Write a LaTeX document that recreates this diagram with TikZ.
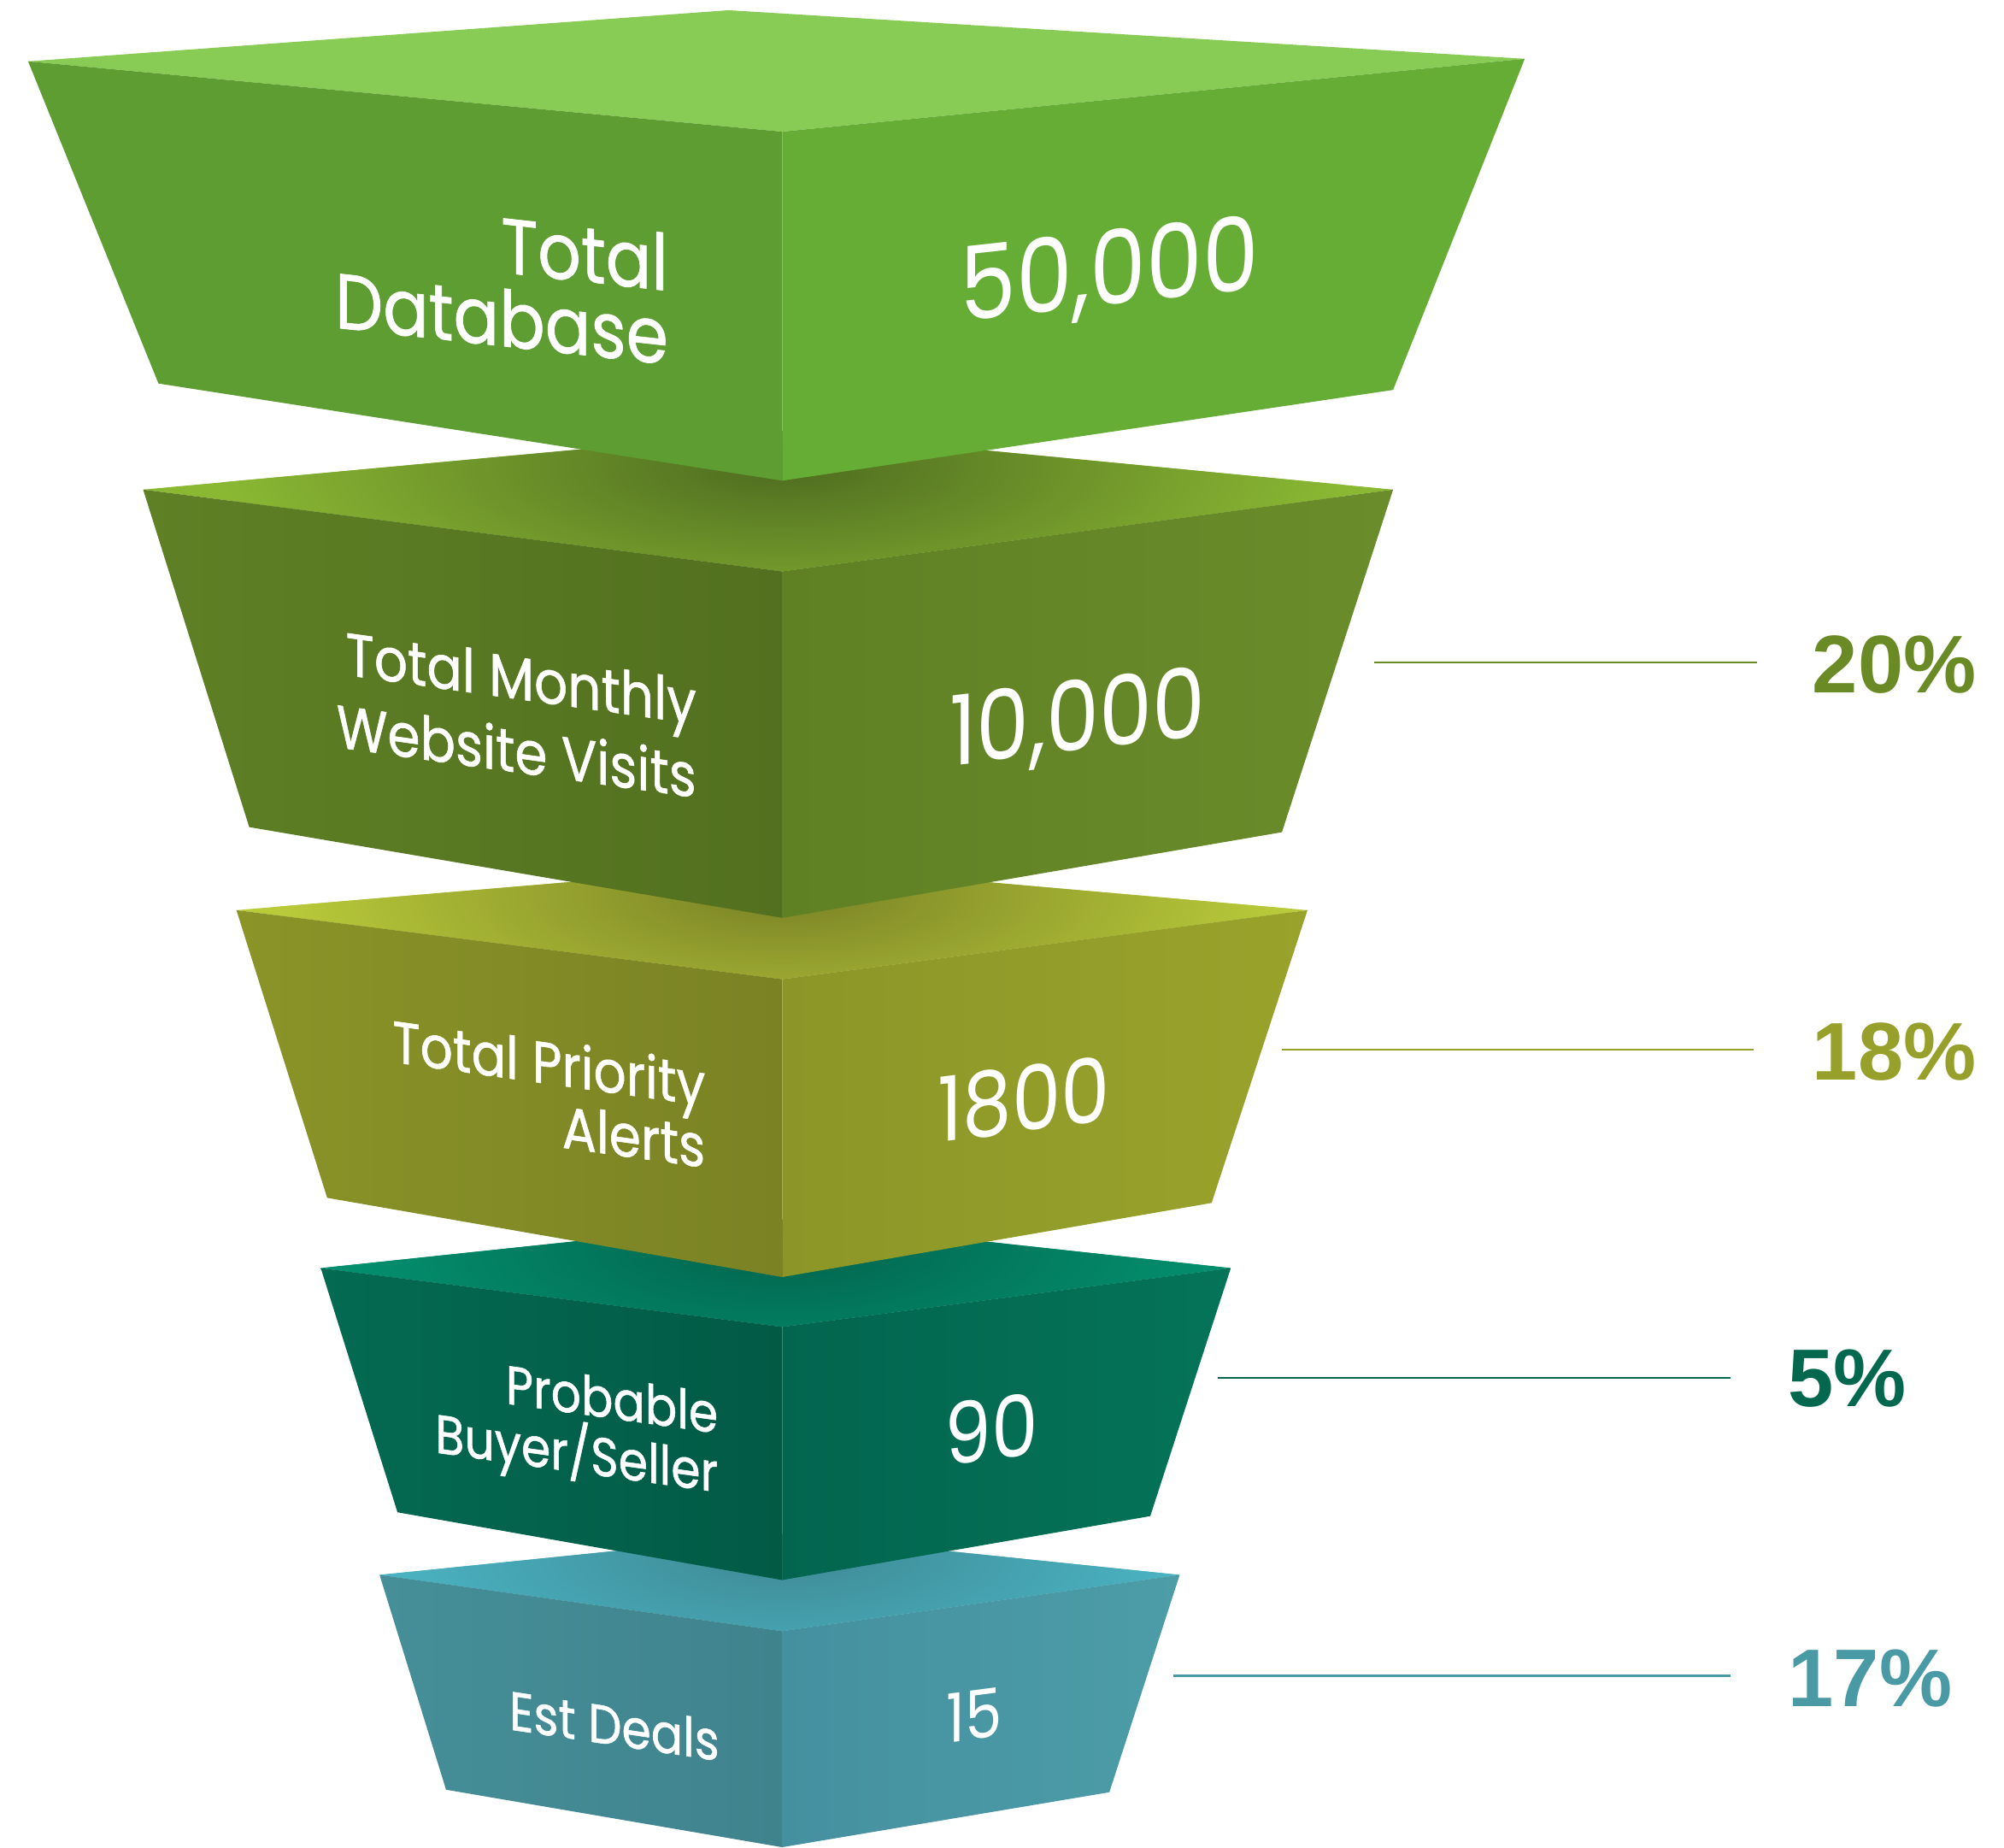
\documentclass[tikz,border=0pt]{standalone}
\usepackage{fontspec}
\setmainfont{Poppins}
\newfontfamily\labfont{Poppins}[FakeBold=0.9]
\newfontfamily\pctfont{Liberation Sans}

% face colours, level by level
\definecolor{aTop}{HTML}{88CC55}
\definecolor{aLeft}{HTML}{5E9D32}
\definecolor{aRight}{HTML}{66AD36}

\definecolor{bTopL}{HTML}{8AB833}
\definecolor{bTopD}{HTML}{4F6C20}
\definecolor{bLeftA}{HTML}{5F8025}
\definecolor{bLeftB}{HTML}{52701F}
\definecolor{bRightA}{HTML}{5F8124}
\definecolor{bRightB}{HTML}{6A8C2A}

\definecolor{cTopL}{HTML}{BACB3A}
\definecolor{cTopD}{HTML}{7A8226}
\definecolor{cLeftA}{HTML}{8A9427}
\definecolor{cLeftB}{HTML}{7A8224}
\definecolor{cRightA}{HTML}{8C9628}
\definecolor{cRightB}{HTML}{99A32B}

\definecolor{dTopL}{HTML}{03916F}
\definecolor{dTopD}{HTML}{02644D}
\definecolor{dLeftA}{HTML}{046A52}
\definecolor{dLeftB}{HTML}{025A45}
\definecolor{dRightA}{HTML}{03654F}
\definecolor{dRightB}{HTML}{047458}

\definecolor{eTopL}{HTML}{4BB5C4}
\definecolor{eTopD}{HTML}{3E8994}
\definecolor{eLeftA}{HTML}{468F98}
\definecolor{eLeftB}{HTML}{3F838D}
\definecolor{eRightA}{HTML}{4590A0}
\definecolor{eRightB}{HTML}{4C9DA8}

\definecolor{pctB}{HTML}{6A8A26}
\definecolor{pctC}{HTML}{97A02A}
\definecolor{pctD}{HTML}{04684F}
\definecolor{pctE}{HTML}{4A9AA6}

\begin{document}
\begin{tikzpicture}[x=1pt,y=-1pt,
  facetext/.style={text=white, inner sep=0pt, transform shape},
  lbl/.style={facetext, align=right},
  num/.style={facetext, align=center},
  pctline/.style={line width=1.6pt},
  pct/.style={inner sep=0pt, font=\pctfont\bfseries\fontsize{64}{64}\selectfont}]

\useasboundingbox (0,0) rectangle (1568,1445);

% ---------- level 5: Est Deals ----------
\coordinate (e-l) at (297,1232); \coordinate (e-b) at (612,1200);
\coordinate (e-r) at (923,1232); \coordinate (e-f) at (612,1276);
\coordinate (e-bl) at (349,1400); \coordinate (e-bf) at (612,1445);
\coordinate (e-br) at (868,1402);
\fill[eTopL] (e-l) -- (e-b) -- (e-r) -- (e-f) -- cycle;
\begin{scope}
  \clip (e-l) -- (e-b) -- (e-r) -- (e-f) -- cycle;
  \shade[inner color=eTopD, outer color=eTopL] (612,1215) ellipse [x radius=330, y radius=110];
\end{scope}
\shade[left color=eLeftA, right color=eLeftB] (e-l) -- (e-f) -- (e-bf) -- (e-bl) -- cycle;
\shade[left color=eRightA, right color=eRightB] (e-f) -- (e-r) -- (e-br) -- (e-bf) -- cycle;

% ---------- level 4: Probable Buyer/Seller ----------
\coordinate (d-l) at (251,992); \coordinate (d-b) at (612,954);
\coordinate (d-r) at (963,992); \coordinate (d-f) at (612,1038);
\coordinate (d-bl) at (311,1183); \coordinate (d-bf) at (612,1236);
\coordinate (d-br) at (900,1186);
\fill[dTopL] (d-l) -- (d-b) -- (d-r) -- (d-f) -- cycle;
\begin{scope}
  \clip (d-l) -- (d-b) -- (d-r) -- (d-f) -- cycle;
  \shade[inner color=dTopD, outer color=dTopL] (612,975) ellipse [x radius=360, y radius=120];
\end{scope}
\shade[left color=dLeftA, right color=dLeftB] (d-l) -- (d-f) -- (d-bf) -- (d-bl) -- cycle;
\shade[left color=dRightA, right color=dRightB] (d-f) -- (d-r) -- (d-br) -- (d-bf) -- cycle;

% ---------- level 3: Total Priority Alerts ----------
\coordinate (c-l) at (185,712); \coordinate (c-b) at (612,676);
\coordinate (c-r) at (1023,712); \coordinate (c-f) at (612,766);
\coordinate (c-bl) at (256,937); \coordinate (c-bf) at (612,999);
\coordinate (c-br) at (948,941);
\fill[cTopL] (c-l) -- (c-b) -- (c-r) -- (c-f) -- cycle;
\begin{scope}
  \clip (c-l) -- (c-b) -- (c-r) -- (c-f) -- cycle;
  \shade[inner color=cTopD, outer color=cTopL] (612,700) ellipse [x radius=400, y radius=130];
\end{scope}
\shade[left color=cLeftA, right color=cLeftB] (c-l) -- (c-f) -- (c-bf) -- (c-bl) -- cycle;
\shade[left color=cRightA, right color=cRightB] (c-f) -- (c-r) -- (c-br) -- (c-bf) -- cycle;

% ---------- level 2: Total Monthly Website Visits ----------
\coordinate (b-l) at (112,383); \coordinate (b-b) at (612,337);
\coordinate (b-r) at (1090,383); \coordinate (b-f) at (612,447);
\coordinate (b-bl) at (195,647); \coordinate (b-bf) at (612,718);
\coordinate (b-br) at (1003,651);
\fill[bTopL] (b-l) -- (b-b) -- (b-r) -- (b-f) -- cycle;
\begin{scope}
  \clip (b-l) -- (b-b) -- (b-r) -- (b-f) -- cycle;
  \shade[inner color=bTopD, outer color=bTopL] (612,365) ellipse [x radius=440, y radius=140];
\end{scope}
\shade[left color=bLeftA, right color=bLeftB] (b-l) -- (b-f) -- (b-bf) -- (b-bl) -- cycle;
\shade[left color=bRightA, right color=bRightB] (b-f) -- (b-r) -- (b-br) -- (b-bf) -- cycle;

% ---------- level 1: Total Database ----------
\coordinate (a-l) at (22,48); \coordinate (a-b) at (570,8);
\coordinate (a-r) at (1193,46); \coordinate (a-f) at (612,103);
\coordinate (a-bl) at (124,300); \coordinate (a-bf) at (612,376);
\coordinate (a-br) at (1090,305);
\fill[aTop] (a-l) -- (a-b) -- (a-r) -- (a-f) -- cycle;
\fill[aLeft] (a-l) -- (a-f) -- (a-bf) -- (a-bl) -- cycle;
\fill[aRight] (a-f) -- (a-r) -- (a-br) -- (a-bf) -- cycle;

% ---------- labels on the left faces ----------
\begin{scope}[shift={(523,234)}, yslant=-0.11, yscale=1.15]
  \node[lbl, anchor=east, font=\labfont\fontsize{53}{50}\selectfont] (lab-a) at (0,0) {Total\\Database};
\end{scope}
\begin{scope}[shift={(545,578)}, yslant=-0.14, yscale=1.15]
  \node[lbl, anchor=east, font=\labfont\fontsize{41}{50}\selectfont] (lab-b) at (0,0) {Total Monthly\\Website Visits};
\end{scope}
\begin{scope}[shift={(552,872)}, yslant=-0.14, yscale=1.15]
  \node[lbl, anchor=east, font=\labfont\fontsize{40}{42}\selectfont] (lab-c) at (0,0) {Total Priority\\Alerts};
\end{scope}
\begin{scope}[shift={(562,1134)}, yslant=-0.14, yscale=1.15]
  \node[lbl, anchor=east, font=\labfont\fontsize{37}{40}\selectfont] (lab-d) at (0,0) {Probable\\Buyer/Seller};
\end{scope}
\begin{scope}[shift={(563,1362)}, yslant=-0.15, yscale=1.15]
  \node[lbl, anchor=east, font=\labfont\fontsize{37}{40}\selectfont] (lab-e) at (0,0) {Est Deals};
\end{scope}

% ---------- figures on the right faces ----------
\begin{scope}[shift={(868,215)}, yslant=0.11, yscale=1.15]
  \node[num, font=\fontsize{70}{70}\selectfont] (num-a) at (0,0) {50,000};
\end{scope}
\begin{scope}[shift={(843,565)}, yslant=0.12, yscale=1.15]
  \node[num, font=\fontsize{66}{66}\selectfont] (num-b) at (0,0) {10,000};
\end{scope}
\begin{scope}[shift={(801,860)}, yslant=0.125, yscale=1.15]
  \node[num, font=\fontsize{61}{61}\selectfont] (num-c) at (0,0) {1800};
\end{scope}
\begin{scope}[shift={(776,1118)}, yslant=0.13, yscale=1.15]
  \node[num, font=\fontsize{58}{58}\selectfont] (num-d) at (0,0) {90};
\end{scope}
\begin{scope}[shift={(762,1342)}, yslant=0.13, yscale=1.15]
  \node[num, font=\fontsize{46}{46}\selectfont] (num-e) at (0,0) {15};
\end{scope}

% ---------- conversion rates ----------
\node[pct, text=pctB, anchor=west] (pct-b) at (1418,520) {20\%};
\node[pct, text=pctC, anchor=west] (pct-c) at (1418,823) {18\%};
\node[pct, text=pctD, anchor=west] (pct-d) at (1399,1078) {5\%};
\node[pct, text=pctE, anchor=west] (pct-e) at (1399,1313) {17\%};

\coordinate (rb) at (1075,518); \coordinate (rb2) at (1375,518);
\coordinate (rc) at (1003,821); \coordinate (rc2) at (1372,821);
\coordinate (rd) at (953,1078); \coordinate (rd2) at (1354,1078);
\coordinate (re) at (918,1311); \coordinate (re2) at (1354,1311);
\draw[pctline, pctB] (rb) -- (rb2);
\draw[pctline, pctC] (rc) -- (rc2);
\draw[pctline, pctD] (rd) -- (rd2);
\draw[pctline, pctE] (re) -- (re2);

\end{tikzpicture}
\end{document}
